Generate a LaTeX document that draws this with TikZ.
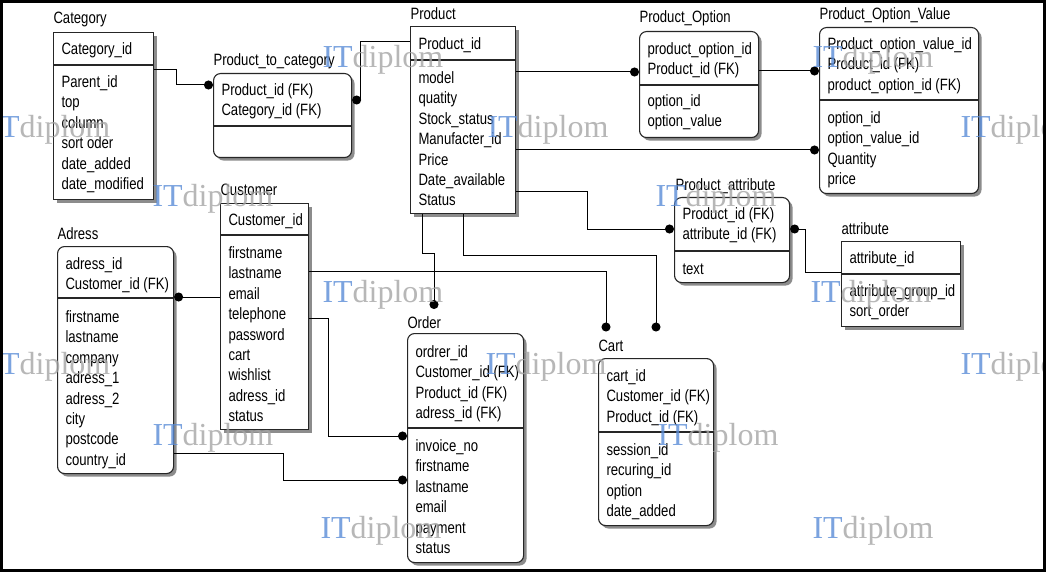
\documentclass[tikz,border=0pt]{standalone}
\usepackage{fontspec}
\newfontfamily\erfont[FakeStretch=0.8]{Liberation Sans}
\newfontfamily\markfont{Liberation Serif}
\usepackage{tikz}
\usetikzlibrary{arrows.meta}
\usetikzlibrary{shadows}
\definecolor{markblue}{RGB}{90,140,215}
\definecolor{markgray}{RGB}{165,165,165}

\begin{document}
\begin{tikzpicture}[x=1pt,y=-1pt,line width=1pt,
	table node/.style={draw=black!85,fill=white,anchor=north west,inner sep=0pt,line width=1.1pt,
		drop shadow={shadow xshift=3pt,shadow yshift=-3pt,fill=black!45,opacity=1}},
	entity node/.style={table node,rounded corners=7pt},
	table title/.style={anchor=base west,inner sep=0pt,font=\erfont\fontsize{16.4}{20.4}\selectfont},
	field list/.style={anchor=north west,inner sep=0pt,align=left,font=\erfont\fontsize{16.4}{20.4}\selectfont},
	link/.style={-{Circle[length=9pt]}},
	watermark/.style={anchor=base west,inner sep=0pt,font=\markfont\fontsize{32}{32}\selectfont,opacity=0.8}]

	\useasboundingbox (0,0) rectangle (1046,572);
	\fill[white] (0,0) rectangle (1046,572);

	% tables
	\node[table node, minimum width=100pt, minimum height=167pt] (category) at (53,32) {};
	\node[entity node, minimum width=138pt, minimum height=84pt] (ptc) at (213,73) {};
	\node[table node, minimum width=105pt, minimum height=187pt] (product) at (410,26) {};
	\node[entity node, minimum width=119pt, minimum height=106pt] (poption) at (639,31) {};
	\node[entity node, minimum width=159pt, minimum height=166pt] (povalue) at (819,27) {};
	\node[entity node, minimum width=115pt, minimum height=85pt] (pattr) at (674,197) {};
	\node[table node, minimum width=119pt, minimum height=85pt] (attribute) at (841,241) {};
	\node[table node, minimum width=88pt, minimum height=226pt] (customer) at (220,203) {};
	\node[entity node, minimum width=116pt, minimum height=227pt] (adress) at (57,246) {};
	\node[entity node, minimum width=116pt, minimum height=229pt] (order) at (407,333) {};
	\node[entity node, minimum width=115pt, minimum height=167pt] (cart) at (598,358) {};

	\draw[line width=1.1pt,black!85]
	(category.west |- 0,65) -- (category.east |- 0,65)
	(ptc.west |- 0,126) -- (ptc.east |- 0,126)
	(product.west |- 0,60) -- (product.east |- 0,60)
	(poption.west |- 0,85) -- (poption.east |- 0,85)
	(povalue.west |- 0,100) -- (povalue.east |- 0,100)
	(pattr.west |- 0,251) -- (pattr.east |- 0,251)
	(attribute.west |- 0,274) -- (attribute.east |- 0,274)
	(customer.west |- 0,235) -- (customer.east |- 0,235)
	(adress.west |- 0,298) -- (adress.east |- 0,298)
	(order.west |- 0,428) -- (order.east |- 0,428)
	(cart.west |- 0,432) -- (cart.east |- 0,432);

	\node[table title] (category-t) at (53,24) {Category};
	\node[table title] (ptc-t) at (213,66) {Product\_to\_category};
	\node[table title] (product-t) at (410,20) {Product};
	\node[table title] (poption-t) at (639,23) {Product\_Option};
	\node[table title] (povalue-t) at (819,20) {Product\_Option\_Value};
	\node[table title] (pattr-t) at (675,191) {Product\_attribute};
	\node[table title] (attribute-t) at (841,234) {attribute};
	\node[table title] (customer-t) at (220,196) {Customer};
	\node[table title] (adress-t) at (57,239) {Adress};
	\node[table title] (order-t) at (407,328) {Order};
	\node[table title] (cart-t) at (598,351) {Cart};

	\node[field list] (category-k) at (61,39.7) {\strut Category\_id};
	\node[field list] (category-a) at (61,72.7) {\strut Parent\_id\\top\\column\\sort oder\\date\_added\\date\_modified};
	\node[field list] (ptc-k) at (221,80.7) {\strut Product\_id (FK)\\Category\_id (FK)};
	\node[field list] (product-k) at (418,34.7) {\strut Product\_id};
	\node[field list] (product-a) at (418,68.7) {\strut model\\quatity\\Stock\_status\\Manufacter\_id\\Price\\Date\_available\\Status};
	\node[field list] (poption-k) at (647,39.7) {\strut product\_option\_id\\Product\_id (FK)};
	\node[field list] (poption-a) at (647,91.7) {\strut option\_id\\option\_value};
	\node[field list] (povalue-k) at (827,34.7) {\strut Product\_option\_value\_id\\Product\_id (FK)\\product\_option\_id (FK)};
	\node[field list] (povalue-a) at (827,108.7) {\strut option\_id\\option\_value\_id\\Quantity\\price};
	\node[field list] (pattr-k) at (682,204.7) {\strut Product\_id (FK)\\attribute\_id (FK)};
	\node[field list] (pattr-a) at (682,259.7) {\strut text};
	\node[field list] (attribute-k) at (849,248.7) {\strut attribute\_id};
	\node[field list] (attribute-a) at (849,281.7) {\strut attribute\_group\_id\\sort\_order};
	\node[field list] (customer-k) at (228,210.7) {\strut Customer\_id};
	\node[field list] (customer-a) at (228,243.7) {\strut firstname\\lastname\\email\\telephone\\password\\cart\\wishlist\\adress\_id\\status};
	\node[field list] (adress-k) at (65,254.7) {\strut adress\_id\\Customer\_id (FK)};
	\node[field list] (adress-a) at (65,307.7) {\strut firstname\\lastname\\company\\adress\_1\\adress\_2\\city\\postcode\\country\_id};
	\node[field list] (order-k) at (415,342.7) {\strut ordrer\_id\\Customer\_id (FK)\\Product\_id (FK)\\adress\_id (FK)};
	\node[field list] (order-a) at (415,436.7) {\strut invoice\_no\\firstname\\lastname\\email\\payment\\status};
	\node[field list] (cart-k) at (606,366.7) {\strut cart\_id\\Customer\_id (FK)\\Product\_id (FK)};
	\node[field list] (cart-a) at (606,440.7) {\strut session\_id\\recuring\_id\\option\\date\_added};

	% relations, dot on the referencing side
	\draw[link] (category.east |- 0,70) -- (176,70) |- (ptc.west |- 0,85);
	\draw[link] (product.west |- 0,42) -- (360,42) |- (ptc.east |- 0,100);
	\draw[link] (product.east |- 0,72) -- (poption.west |- 0,72);
	\draw[link] (poption.east |- 0,71) -- (povalue.west |- 0,71);
	\draw[link] (product.east |- 0,150) -- (povalue.west |- 0,150);
	\draw[link] (product.east |- 0,192) -- (587,192) |- (pattr.west |- 0,229);
	\draw[link] (attribute.west |- 0,272) -- (805,272) |- (pattr.east |- 0,229);
	\draw[link,shorten >=24pt] (422,0 |- product.south) -- (422,253) -| (434,0 |- order.north);
	\draw[link,shorten >=26.5pt] (463,0 |- product.south) -- (463,255) -| (656,0 |- cart.north);
	\draw[link,shorten >=26.5pt] (customer.east |- 0,271) -| (606,0 |- cart.north);
	\draw[link] (customer.west |- 0,297) -- (adress.east |- 0,297);
	\draw[link] (customer.east |- 0,318) -- (328,318) |- (order.west |- 0,436);
	\draw[link] (adress.east |- 0,453) -- (283,453) |- (order.west |- 0,480);

	\begin{scope}
	\clip (0,0) rectangle (1046,572);
	\foreach \wx/\wy [count=\i] in {322/67.5,812/67.5,-11/137.5,487/137.5,960/137.5,152/206.5,655/206.5,
		322/302,810/302,-11/374,485/374,960/374,152/445,657/445,320/538,812/538}
		\node[watermark] (mark-\i) at (\wx,\wy) {\textcolor{markblue}{IT}\textcolor{markgray}{diplom}};
	\end{scope}

	\draw[line width=3pt] (1.5,1.5) rectangle (1044.5,570.5);
\end{tikzpicture}
\end{document}
